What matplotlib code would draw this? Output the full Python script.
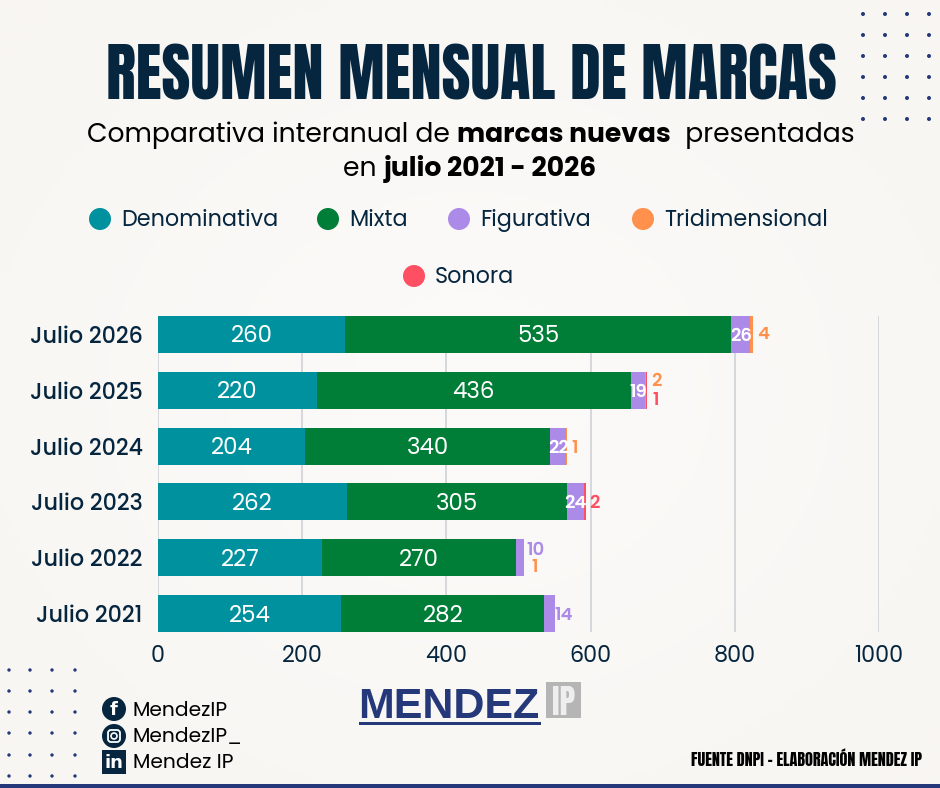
import numpy as np
import matplotlib
matplotlib.use('Agg')
import matplotlib.pyplot as plt
from matplotlib import font_manager as fm
from matplotlib.patches import Rectangle, Circle, FancyBboxPatch

# data
years = ['Julio 2021', 'Julio 2022', 'Julio 2023', 'Julio 2024', 'Julio 2025', 'Julio 2026']
denominativa = [254, 227, 262, 204, 220, 260]
mixta = [282, 270, 305, 340, 436, 535]
figurativa = [14, 10, 24, 22, 19, 26]
tridimensional = [0, 1, 0, 1, 2, 4]
sonora = [0, 0, 2, 0, 1, 0]
ticks = [0, 200, 400, 600, 800, 1000]

NAVY = '#06263f'
BLUE = '#25397a'
BG = '#faf8f5'
colors = {'Denominativa': '#00919e', 'Mixta': '#007d36', 'Figurativa': '#ab8ae8',
          'Tridimensional': '#ff914d', 'Sonora': '#ff5063'}
W, H = 940, 788

# closest faces if they are on the machine, plain ones otherwise
have = set(f.name for f in fm.fontManager.ttflist)
FONT = 'Poppins' if 'Poppins' in have else 'Inter'
HEAD = 'Anton' if 'Anton' in have else 'DejaVu Sans'
head_size = 45 if HEAD == 'Anton' else 27
foot_size = 11.6 if HEAD == 'Anton' else 7.5
ip_size = 24 if HEAD == 'Anton' else 17
LIFT = 0.045  # Poppins sits high with va='center'

fig = plt.figure(figsize=(W / 100, H / 100), dpi=100, facecolor=BG)

# overlay in pixel coordinates for everything that is not the chart
bg = fig.add_axes([0, 0, 1, 1])
bg.set_xlim(0, W)
bg.set_ylim(H, 0)
bg.axis('off')

# soft background, lighter in the middle
gx, gy = np.meshgrid(np.linspace(-1, 1, 94), np.linspace(-1, 1, 79))
glow = np.clip(1 - np.sqrt(gx ** 2 + gy ** 2) / 1.3, 0, 1)[..., None]
edge = np.array([0xf8, 0xf6, 0xf2]) / 255
mid = np.array([0xfd, 0xfb, 0xfa]) / 255
bg.imshow(edge + (mid - edge) * glow, extent=(0, W, H, 0), aspect='auto', zorder=0,
          interpolation='bilinear')

# chart
ax = fig.add_axes([158 / W, 1 - 632 / H, (879 - 158) / W, (632 - 316) / H])
ax.patch.set_alpha(0)
y = np.arange(len(years))
series = [('Denominativa', denominativa), ('Mixta', mixta), ('Figurativa', figurativa),
          ('Tridimensional', tridimensional), ('Sonora', sonora)]
left = np.zeros(len(years))
for name, vals in series:
    ax.barh(y, vals, left=left, height=0.66, color=colors[name], zorder=3)
    left += np.array(vals)
ax.set_xlim(0, 1000)
ax.set_ylim(-0.33, 5.33)
ax.set_xticks(ticks)
ax.set_yticks(y)
ax.set_yticklabels(years)
ax.tick_params(length=0, axis='x', pad=9, labelsize=16, labelcolor=NAVY)
ax.tick_params(length=0, axis='y', pad=11, labelsize=16, labelcolor=NAVY)
for lab in ax.get_xticklabels() + ax.get_yticklabels():
    lab.set_family(FONT)
for lab in ax.get_yticklabels():
    lab.set_fontweight('medium')
ax.grid(axis='x', color='#cbcfd3', lw=1.1, zorder=0)
ax.set_axisbelow(True)
for s in ax.spines.values():
    s.set_visible(False)

# labels inside the bars
for i in y:
    ax.text(denominativa[i] / 2, i - LIFT, str(denominativa[i]), color='white', ha='center', va='center',
            fontsize=16.5, family=FONT, zorder=5)
    ax.text(denominativa[i] + mixta[i] / 2, i - LIFT, str(mixta[i]), color='white', ha='center', va='center',
            fontsize=16.5, family=FONT, zorder=5)


def small(x, yy, txt, color):
    ax.text(x, yy - LIFT, txt, color=color, va='center', fontsize=13, fontweight='semibold',
            family=FONT, zorder=5)


# small labels
for i in [2, 3, 4, 5]:
    x = denominativa[i] + mixta[i] + figurativa[i] / 2
    ax.text(x, i - LIFT, str(figurativa[i]), color='white', ha='center', va='center',
            fontsize=13, fontweight='semibold', family=FONT, zorder=5)
small(550, 0, '14', colors['Figurativa'])
small(511, 1.16, '10', colors['Figurativa'])
small(518, 0.87, '1', colors['Tridimensional'])
small(598, 2.0, '2', colors['Sonora'])
small(573, 3.0, '1', colors['Tridimensional'])
small(684, 4.2, '2', colors['Tridimensional'])
small(685, 3.85, '1', colors['Sonora'])
small(831, 5.03, '4', colors['Tridimensional'])

# title
bg.text(471, 99, 'RESUMEN MENSUAL DE MARCAS', ha='center', va='baseline', fontsize=head_size,
        family=HEAD, fontweight='bold' if HEAD != 'Anton' else 'normal', color=NAVY)


def mixed(px, py, parts, size=19.2):
    # place runs of normal and bold text one after the other
    prev = None
    for txt, weight in parts:
        if prev is None:
            prev = bg.annotate(txt, xy=(px, py), xycoords='data', va='baseline', ha='left',
                               fontsize=size, fontweight=weight, family=FONT, color='black')
        else:
            prev = bg.annotate(txt, xy=(1, 0), xycoords=prev, va='bottom', ha='left',
                               fontsize=size, fontweight=weight, family=FONT, color='black')


mixed(87, 142, [('Comparativa interanual de ', 'normal'), ('marcas nuevas', 'bold'),
                ('  presentadas', 'normal')])
mixed(343, 176, [('en ', 'normal'), ('julio 2021 - 2026', 'bold')])

# legend
legend_pos = [('Denominativa', 100, 219), ('Mixta', 328, 219), ('Figurativa', 459, 219),
              ('Tridimensional', 643, 219), ('Sonora', 414, 276)]
for name, lx, ly in legend_pos:
    bg.add_patch(Circle((lx, ly), 11, color=colors[name], lw=0))
    bg.text(lx + 21, ly + 1, name, va='center', fontsize=16, family=FONT, color=NAVY)

# dots
for dx in [863, 885, 907, 929]:
    for dy in [14, 35, 56, 77, 98, 119]:
        bg.add_patch(Circle((dx, dy), 2, color=BLUE, lw=0))
for dx in [9, 30, 52, 75]:
    for dy in [670, 691, 712, 733, 755, 776]:
        bg.add_patch(Circle((dx, dy), 1.7, color=BLUE, lw=0))

# social links
social = [('f', 'MendezIP', 709), ('', 'MendezIP_', 736), ('in', 'Mendez IP', 762)]
for glyph, txt, sy in social:
    if glyph == 'in':
        bg.add_patch(Rectangle((102, sy - 12), 24, 24, color=NAVY, lw=0))
    else:
        bg.add_patch(Circle((114, sy), 12, color=NAVY, lw=0))
    if glyph:
        bg.text(114, sy + 1, glyph, color='white', ha='center', va='center', fontsize=13, fontweight='bold',
                family='DejaVu Sans')
    else:
        bg.add_patch(FancyBboxPatch((108, sy - 6), 12, 12, boxstyle='round,pad=0,rounding_size=3',
                                    fc='none', ec='white', lw=1.3))
        bg.add_patch(Circle((114, sy), 3, fc='none', ec='white', lw=1.2))
    bg.text(133, sy + 1.5, txt, va='center', fontsize=14.6, family=FONT, color='black')

# logo
bg.text(358, 718, 'MENDEZ', va='baseline', ha='left', fontsize=31, fontweight='bold',
        family='Liberation Sans', color=BLUE)
bg.add_patch(Rectangle((359, 722), 182, 3, color=BLUE, lw=0))
bg.add_patch(Rectangle((546, 682), 35, 36, color='#b5b5b5', lw=0))
bg.text(563.5, 715, 'IP', va='baseline', ha='center', fontsize=ip_size,
        family=HEAD, color='#eeeeee')

# source
bg.text(922, 766, 'FUENTE DNPI - ELABORACIÓN MENDEZ IP', ha='right', va='baseline', fontsize=foot_size,
        family=HEAD, color='black')

# bottom line
bg.add_patch(Rectangle((0, 784), W, 4, color=BLUE, lw=0))

fig.savefig('out.png', dpi=100, facecolor=BG)
